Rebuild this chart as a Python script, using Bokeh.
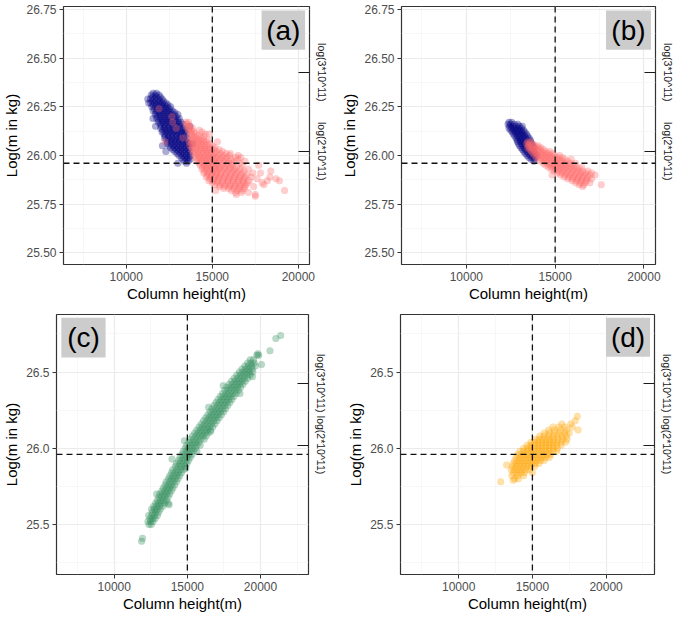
import math
from bokeh.plotting import figure
from bokeh.layouts import column, row
from bokeh.models import (Range1d, LinearAxis, FixedTicker, PrintfTickFormatter,
                          CustomJSTickFormatter, Span, BoxAnnotation, Label)
from bokeh.embed import file_html
from bokeh.resources import INLINE

FONT = "Liberation Sans"

# ---------------- axis values ----------------
X_TICKS = [10000, 15000, 20000]
X_MINOR = [7500, 12500, 17500, 22500]
Y_TICKS_AB = [25.50, 25.75, 26.00, 26.25, 26.50, 26.75]
Y_MINOR_AB = [25.625, 25.875, 26.125, 26.375, 26.625]
Y_TICKS_CD = [25.5, 26.0, 26.5]
Y_MINOR_CD = [25.25, 25.75, 26.25, 26.75]
REF_HEIGHT = 15000
REF_LOGMASS = 25.96
MASS_TICKS = [math.log(2e11), math.log(3e11)]
MASS_LABELS = ["log(2*10^11)", "log(3*10^11)"]
PANEL_TAGS = ["(a)", "(b)", "(c)", "(d)"]
X_TITLE = "Column height(m)"
Y_TITLE = "Log(m in kg)"

# ---------------- data: rows of (log mass, [column heights]) ----------------
NAVY_A = [
    (26.32, [11560, 11760]), (26.31, [11450, 11680, 11900]),
    (26.30, [11520, 11750, 11980]), (26.29, [11250, 11400, 11620, 11850, 12080]),
    (26.28, [11500, 11720, 11940, 12160]), (26.27, [11300, 11420, 11640, 11860, 12080, 12300]),
    (26.26, [11550, 11780, 12000, 12220, 12420]), (26.25, [11480, 11700, 11920, 12140, 12370, 12580]),
    (26.24, [11620, 11850, 12070, 12290, 12510]), (26.23, [11560, 11780, 12000, 12220, 12450, 12680]),
    (26.22, [11720, 11940, 12160, 12380, 12600, 12820]),
    (26.21, [11680, 11900, 12120, 12340, 12560, 12780, 13000]),
    (26.20, [11800, 12020, 12240, 12460, 12680, 12900]),
    (26.19, [11550, 11760, 11980, 12200, 12420, 12640, 12860, 13080]),
    (26.18, [11900, 12120, 12340, 12560, 12780, 13000]),
    (26.17, [11860, 12080, 12300, 12520, 12740, 12960, 13180]),
    (26.16, [11980, 12200, 12420, 12640, 12860, 13080, 13300]),
    (26.15, [11700, 12040, 12260, 12480, 12700, 12920, 13140, 13700]),
    (26.14, [12000, 12220, 12440, 12660, 12880, 13100, 13330]),
    (26.13, [12120, 12340, 12560, 12780, 13000, 13220, 13440]),
    (26.12, [12080, 12300, 12520, 12740, 12960, 13180, 13400]),
    (26.11, [12200, 12420, 12640, 12860, 13080, 13300, 13500]),
    (26.10, [12260, 12480, 12700, 12920, 13140, 13360]),
    (26.09, [12220, 12440, 12660, 12880, 13100, 13320, 13540]),
    (26.08, [12340, 12560, 12780, 13000, 13220, 13440]),
    (26.07, [12420, 12640, 12860, 13080, 13300, 13520]),
    (26.06, [12380, 12600, 12820, 13040, 13260, 13480, 13660, 13850]),
    (26.05, [12100, 12500, 12720, 12940, 13160, 13380, 13600]),
    (26.04, [12580, 12800, 13020, 13240, 13460, 13660]),
    (26.03, [12700, 12920, 13140, 13360, 13580]),
    (26.02, [12300, 12820, 13040, 13260, 13480, 13700]),
    (26.01, [12950, 13170, 13390, 13610]),
    (26.00, [13060, 13280, 13500, 13720]),
    (25.99, [13200, 13420, 13640]),
    (25.98, [13300, 13520, 13720]),
    (25.97, [13380, 13600]),
    (25.96, [13000, 13500]),
]
SALMON_A = [
    (26.24, [11900]), (26.20, [12650]), (26.17, [13450, 13620, 12700]), (26.16, [13550]),
    (26.15, [13500, 13700]), (26.14, [13650, 13850, 12900]), (26.13, [13600, 13780, 14250]),
    (26.12, [13720, 13920, 14400]), (26.11, [13800, 14050, 14600, 14820]),
    (26.10, [13700, 13950, 14200, 14500]), (26.09, [13850, 14100, 14350, 13300]),
    (26.08, [13750, 13980, 14250, 14500, 14750]),
    (26.07, [12250, 13650, 13900, 14150, 14400, 14650, 15300]),
    (26.06, [13800, 14050, 14300, 14550, 14850]),
    (26.05, [13700, 13950, 14200, 14450, 14700, 15000]),
    (26.04, [13850, 14100, 14350, 14600, 14850, 15150]),
    (26.03, [13800, 14050, 14300, 14550, 14800, 15050, 15400]),
    (26.02, [13950, 14200, 14450, 14700, 14950, 15250, 15600]),
    (26.01, [13900, 14150, 14400, 14650, 14900, 15150, 15450, 15800, 16050]),
    (26.00, [14050, 14300, 14550, 14800, 15050, 15350, 15650, 16000, 16500]),
    (25.99, [14000, 14250, 14500, 14750, 15000, 15250, 15550, 15850, 16350, 16650]),
    (25.98, [14150, 14400, 14650, 14900, 15150, 15450, 15750, 16100, 16500]),
    (25.97, [14100, 14350, 14600, 14850, 15100, 15350, 15650, 15950, 16250, 16900]),
    (25.96, [14250, 14500, 14750, 15000, 15250, 15550, 15850, 16150, 16600]),
    (25.95, [14300, 14550, 14800, 15050, 15300, 15600, 15900, 16200, 16750, 17700]),
    (25.94, [14450, 14700, 14950, 15200, 15450, 15750, 16050, 16400]),
    (25.93, [14400, 14650, 14900, 15150, 15400, 15700, 16000, 16300, 16650, 17100]),
    (25.92, [14550, 14800, 15050, 15300, 15600, 15900, 16200, 16500, 16850, 18400]),
    (25.91, [14500, 14750, 15000, 15250, 15500, 15800, 16100, 16400, 16750, 17350, 17800]),
    (25.90, [14700, 14950, 15200, 15450, 15750, 16050, 16350, 16650, 17000]),
    (25.89, [14650, 14900, 15150, 15400, 15700, 16000, 16300, 16600, 16900, 17250, 18350]),
    (25.88, [14850, 15100, 15350, 15650, 15950, 16250, 16550, 16850, 17600, 18700]),
    (25.87, [14800, 15050, 15300, 15600, 15900, 16200, 16500, 16800, 17150, 18200, 18900]),
    (25.86, [15000, 15300, 15600, 15900, 16200, 16500, 16800, 17050, 17900]),
    (25.85, [15150, 15450, 15750, 16050, 16350, 16650, 16950, 18000]),
    (25.84, [15400, 15700, 16000, 16300, 16600, 16900, 17400]),
    (25.83, [15650, 15950, 16250, 16550, 16850]),
    (25.82, [15200, 16100, 16450, 16750, 19200]),
    (25.81, [16350, 16700, 17100]),
    (25.80, [16400, 17500]),
    (25.79, [17500]),
]
NAVY_B = [
    (26.17, [12400, 12550]), (26.16, [12350, 12500, 12700, 12900]),
    (26.15, [12450, 12620, 12800, 12980, 13150]), (26.14, [12400, 12560, 12740, 12920, 13100]),
    (26.13, [12500, 12680, 12860, 13040, 13220]), (26.12, [12580, 12760, 12940, 13120, 13300]),
    (26.11, [12650, 12830, 13010, 13190, 13380]), (26.10, [12720, 12900, 13080, 13260, 13450]),
    (26.09, [12800, 12980, 13160, 13340, 13530]), (26.08, [12860, 13040, 13220, 13400, 13600]),
    (26.07, [12880, 13060, 13240, 13420, 13620]), (26.06, [12940, 13120, 13300, 13480, 13680]),
    (26.05, [13000, 13180, 13360, 13540, 13740]), (26.04, [13080, 13260, 13440, 13620, 13820]),
    (26.03, [13160, 13340, 13520, 13700]), (26.02, [13240, 13420, 13600, 13780]),
    (26.01, [13320, 13500, 13680, 13860]), (26.00, [13420, 13600, 13780, 13960]),
    (25.99, [13520, 13700, 13880]), (25.98, [13640, 13820]), (25.97, [13800]),
]
SALMON_B = [
    (26.07, [13450, 13600]), (26.06, [13400, 13550, 13750]),
    (26.05, [13500, 13680, 13870, 14050]), (26.04, [13450, 13620, 13800, 14000, 14200]),
    (26.03, [13560, 13740, 13930, 14130, 14350]),
    (26.02, [13650, 13850, 14050, 14250, 14480, 14700]),
    (26.01, [13750, 13950, 14150, 14380, 14600, 14850]),
    (26.00, [13850, 14060, 14280, 14500, 14730, 14980, 15250]),
    (25.99, [13950, 14170, 14400, 14630, 14870, 15120, 15400]),
    (25.98, [14080, 14300, 14530, 14770, 15010, 15260, 15550, 15900]),
    (25.97, [14200, 14430, 14670, 14910, 15160, 15420, 15700]),
    (25.96, [14330, 14570, 14810, 15060, 15310, 15570, 15850, 16150]),
    (25.95, [14470, 14710, 14960, 15210, 15470, 15740, 16020]),
    (25.94, [14620, 14860, 15110, 15370, 15630, 15900, 16200, 16500]),
    (25.93, [14780, 15030, 15280, 15540, 15800, 16070, 16350]),
    (25.92, [14950, 15200, 15460, 15720, 15990, 16260, 16550, 16850]),
    (25.91, [15120, 15380, 15640, 15910, 16180, 16450, 16720, 17050]),
    (25.90, [14830, 15300, 15560, 15830, 16100, 16370, 16640, 16950, 17250]),
    (25.89, [15500, 15760, 16030, 16300, 16570, 16840]),
    (25.88, [15700, 15970, 16240, 16510, 16780, 17050]),
    (25.87, [15950, 16220, 16490, 16760]),
    (25.86, [16150, 16420, 16700, 16950]),
    (25.85, [16350, 16600, 17600]), (25.84, [16550]),
]
GREEN_C = [
    (25.39, [11870]), (25.41, [11930]),
    (25.50, [12380, 12530]), (25.52, [12300, 12480, 12650]),
    (25.54, [12450, 12640, 12800]), (25.56, [12350, 12560, 12760, 12950]),
    (25.58, [12600, 12820, 13030]), (25.60, [12550, 12740, 12930, 13150]),
    (25.62, [12700, 12900, 13100, 13320]), (25.64, [12830, 13020, 13230, 13450, 13700]),
    (25.66, [12950, 13150, 13350, 13560]), (25.68, [13050, 13260, 13470, 13680]),
    (25.70, [13120, 13350, 13560, 13780]), (25.72, [13250, 13460, 13680, 13900]),
    (25.74, [13350, 13580, 13790, 14010]), (25.76, [13480, 13700, 13910, 14130]),
    (25.78, [13550, 13800, 14020, 14250]), (25.80, [13700, 13920, 14140, 14360]),
    (25.82, [13800, 14030, 14260, 14480]), (25.84, [13920, 14150, 14380, 14600]),
    (25.86, [14000, 14270, 14500, 14730]), (25.88, [14180, 14400, 14620, 14850]),
    (25.90, [14250, 14500, 14740, 14970]), (25.92, [14400, 14630, 14860, 15080]),
    (25.94, [14500, 14750, 14980, 15200]), (25.96, [14620, 14860, 15090, 15320]),
    (25.98, [14720, 14960, 15200, 15430, 15650]), (26.00, [14850, 15080, 15310, 15540]),
    (26.02, [14950, 15200, 15430, 15660, 15880]), (26.04, [15100, 15330, 15560, 15790]),
    (26.06, [15200, 15450, 15690, 15920, 16150]), (26.08, [15350, 15600, 15830, 16060, 16290]),
    (26.10, [15500, 15740, 15970, 16200, 16420]), (26.12, [15650, 15890, 16120, 16350, 16580]),
    (26.14, [15800, 16040, 16270, 16500, 16730]), (26.16, [15950, 16190, 16420, 16650, 16880]),
    (26.18, [16100, 16340, 16570, 16800, 17030]), (26.20, [16250, 16490, 16720, 16950, 17180]),
    (26.22, [16400, 16640, 16870, 17100, 17330]), (26.24, [16550, 16790, 17020, 17250, 17480]),
    (26.26, [16680, 16930, 17160, 17390, 17620]), (26.28, [16820, 17070, 17300, 17530, 17760]),
    (26.30, [16960, 17210, 17440, 17670, 17900]), (26.32, [17100, 17350, 17580, 17810, 18040]),
    (26.34, [17250, 17490, 17720, 17950, 18180]), (26.36, [17400, 17640, 17870, 18100, 18330]),
    (26.38, [17560, 17800, 18030, 18260, 18490]), (26.40, [17700, 17950, 18180, 18410, 18640]),
    (26.42, [17860, 18110, 18340, 18570, 18800]), (26.44, [18020, 18270, 18500, 18730, 18960]),
    (26.46, [18200, 18440, 18670, 18900, 19130]), (26.48, [18380, 18620, 18850, 19080, 19300]),
    (26.50, [18560, 18800, 19030, 19260, 19480]), (26.52, [18740, 18980, 19210, 19440]),
    (26.54, [18930, 19170, 19400, 19650]), (26.56, [19120, 19350, 19580]),
    (26.58, [19300, 19520]), (26.61, [19750, 19880]), (26.62, [19820]),
    (26.55, [20070]), (26.64, [20650]), (26.72, [21050]), (26.74, [21380]),
    (25.63, [13750]), (25.70, [12900]), (25.87, [14900]), (25.93, [13950]),
    (26.05, [14800]), (26.11, [16600]), (26.27, [16450]), (26.36, [18600]),
    (26.47, [19450]), (26.41, [17450]),
]
ORANGE_D = [
    (25.78, [12850]), (25.79, [13700]), (25.80, [13800, 14050]),
    (25.82, [13600, 14000, 14400]), (25.84, [13700, 13950, 14200, 14450, 15000]),
    (25.86, [13550, 13800, 14050, 14300, 14550, 14800]),
    (25.88, [13650, 13900, 14150, 14400, 14650, 14900, 15150]),
    (25.89, [13250]),
    (25.90, [13700, 13950, 14200, 14450, 14700, 14950, 15200, 15450]),
    (25.92, [13800, 14050, 14300, 14550, 14800, 15050, 15300, 15550, 15800]),
    (25.94, [13900, 14150, 14400, 14650, 14900, 15150, 15400, 15650, 15900, 16150]),
    (25.96, [14000, 14250, 14500, 14750, 15000, 15250, 15500, 15750, 16000, 16250]),
    (25.98, [14150, 14400, 14650, 14900, 15150, 15400, 15650, 15900, 16150, 16400, 16650]),
    (26.00, [14400, 14650, 14900, 15150, 15400, 15650, 15900, 16150, 16400, 16700]),
    (26.02, [14650, 14900, 15150, 15400, 15650, 15900, 16150, 16400, 16650, 16950]),
    (26.04, [14900, 15150, 15400, 15650, 15900, 16150, 16400, 16650, 16950, 17250]),
    (26.06, [15200, 15450, 15700, 15950, 16200, 16450, 16750, 17050, 17350]),
    (26.08, [15500, 15800, 16100, 16400, 16700, 17000, 17300]),
    (26.10, [15800, 16150, 16500, 16850, 17200, 17500]),
    (26.12, [16100, 16500, 16900, 17300, 18100]),
    (26.14, [16400, 16800, 17200, 17700]), (26.16, [17000, 17600]),
    (26.18, [17900]), (26.21, [18050]),
]

# ---------------- styles / annotation positions ----------------
NAVY = "#000080"
SALMON = "#FF6A6A"
GREEN = "#2E8B57"
ORANGE = "#FFA500"
TAG_BOX = {  # left, right, bottom, top in data units
    "(a)": (17865, 20393, 26.543, 26.745),
    "(b)": (17865, 20393, 26.543, 26.745),
    "(c)": (6381, 9408, 26.596, 26.857),
    "(d)": (19995, 22980, 26.600, 26.857),
}


def flatten(rows):
    xs = [x for y, r in rows for x in r]
    ys = [y for y, r in rows for x in r]
    return xs, ys


def make_panel(tag, series, xr, yr, yticks, yminor, yfmt, fw, fh, bl, br, bt, bb):
    p = figure(frame_width=fw, frame_height=fh, min_border_left=bl, min_border_right=br,
               min_border_top=bt, min_border_bottom=bb,
               x_range=Range1d(*xr), y_range=Range1d(*yr),
               toolbar_location=None, output_backend="svg", tools="")
    p.background_fill_color = "white"
    p.border_fill_color = "white"
    p.outline_line_color = "#333333"
    p.outline_line_width = 1.2

    p.xaxis.ticker = FixedTicker(ticks=X_TICKS, minor_ticks=X_MINOR)
    p.yaxis.ticker = FixedTicker(ticks=yticks, minor_ticks=yminor)
    p.xaxis.formatter = PrintfTickFormatter(format="%d")
    p.yaxis.formatter = PrintfTickFormatter(format=yfmt)
    for ax in (p.xaxis[0], p.yaxis[0]):
        ax.axis_line_color = None
        ax.major_tick_line_color = "#333333"
        ax.major_tick_out = 4
        ax.major_tick_in = 0
        ax.minor_tick_line_color = None
        ax.major_label_text_font = FONT
        ax.major_label_text_font_size = "12px"
        ax.major_label_text_color = "#4D4D4D"
        ax.major_label_standoff = 3
        ax.axis_label_text_font = FONT
        ax.axis_label_text_font_size = "15px"
        ax.axis_label_text_font_style = "normal"
        ax.axis_label_text_color = "#000000"
    p.xaxis.axis_label = X_TITLE
    p.yaxis.axis_label = Y_TITLE
    p.xaxis.axis_label_standoff = 1
    p.yaxis.axis_label_standoff = 3

    for g in (p.xgrid[0], p.ygrid[0]):
        g.grid_line_color = "#EBEBEB"
        g.grid_line_width = 1.2
        g.minor_grid_line_color = "#F3F3F3"
        g.minor_grid_line_width = 0.7

    for rows, color in series:
        xs, ys = flatten(rows)
        p.scatter(xs, ys, size=7, marker="circle", fill_color=color, fill_alpha=0.33,
                  line_color=color, line_alpha=0.08, line_width=0.6)

    right = LinearAxis(ticker=FixedTicker(ticks=MASS_TICKS),
                       formatter=CustomJSTickFormatter(
                           args=dict(mticks=MASS_TICKS, mlabels=MASS_LABELS),
                           code="""
                           let best = 0;
                           for (let i = 0; i < mticks.length; i++) {
                               if (Math.abs(mticks[i] - tick) < Math.abs(mticks[best] - tick)) best = i;
                           }
                           return mlabels[best];
                           """))
    right.axis_line_color = None
    right.major_tick_in = 11
    right.major_tick_out = 0
    right.major_tick_line_color = "#1A1A1A"
    right.major_tick_line_width = 1.2
    right.minor_tick_line_color = None
    right.major_label_orientation = "parallel"
    right.major_label_standoff = 6
    right.major_label_text_font = FONT
    right.major_label_text_font_size = "10.5px"
    right.major_label_text_color = "#1A1A1A"
    p.add_layout(right, "right")

    p.add_layout(Span(location=REF_HEIGHT, dimension="height", line_color="#111111",
                      line_dash="6 4", line_width=1.3))
    p.add_layout(Span(location=REF_LOGMASS, dimension="width", line_color="#111111",
                      line_dash="6 4", line_width=1.3))

    l, r, b, t = TAG_BOX[tag]
    p.add_layout(BoxAnnotation(left=l, right=r, bottom=b, top=t, fill_color="#CCCCCC",
                               fill_alpha=1.0, line_color=None, level="annotation"))
    p.add_layout(Label(x=(l + r) / 2, y=(b + t) / 2, text=tag, text_align="center",
                       text_baseline="middle", text_font=FONT, text_font_size="28px",
                       text_color="#000000"))
    return p


XR_AB = (6350, 20650)
YR_AB = (25.44, 26.765)
XR_CD = (6050, 23285)
YR_CD = (25.1725, 26.8775)

pa = make_panel("(a)", [(NAVY_A, NAVY), (SALMON_A, SALMON)], XR_AB, YR_AB,
                Y_TICKS_AB, Y_MINOR_AB, "%.2f", 246, 258, 58, 28, 6, 40)
pb = make_panel("(b)", [(NAVY_B, NAVY), (SALMON_B, SALMON)], XR_AB, YR_AB,
                Y_TICKS_AB, Y_MINOR_AB, "%.2f", 254, 258, 64, 19, 6, 40)
pc = make_panel("(c)", [(GREEN_C, GREEN)], XR_CD, YR_CD,
                Y_TICKS_CD, Y_MINOR_CD, "%.1f", 252, 260, 52, 28, 10, 40)
pd_ = make_panel("(d)", [(ORANGE_D, ORANGE)], XR_CD, YR_CD,
                 Y_TICKS_CD, Y_MINOR_CD, "%.1f", 254, 260, 64, 19, 10, 40)

layout = column(row(pa, pb), row(pc, pd_))

with open("out.html", "w") as f:
    f.write(file_html(layout, INLINE, title="Column height vs mass"))
